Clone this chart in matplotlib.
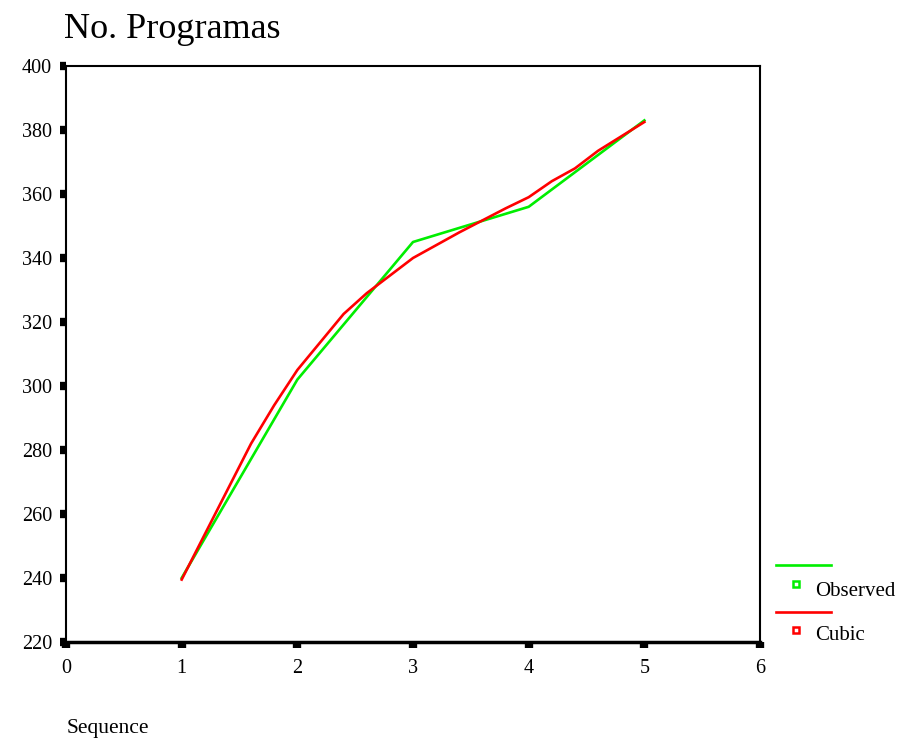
import matplotlib
matplotlib.use('Agg')
import matplotlib.pyplot as plt
from matplotlib.lines import Line2D

plt.rcParams['font.family'] = ['Liberation Serif', 'DejaVu Serif']

# observed series
seq = [1, 2, 3, 4, 5]
observed = [240, 302, 345, 356, 383]

# cubic fit
cubic_x = [1, 1.6, 1.8, 2.0, 2.4, 2.6, 3.0, 3.4, 3.8, 4.0, 4.2, 4.4, 4.6, 4.8, 5.0]
cubic_y = [239.5, 282, 294, 305, 322.5, 329, 340, 348, 355.5, 359, 364, 368, 373.5, 378, 382.5]

xticks = [0, 1, 2, 3, 4, 5, 6]
yticks = [220, 240, 260, 280, 300, 320, 340, 360, 380, 400]

fig = plt.figure(figsize=(9.17, 7.45), dpi=100)
ax = fig.add_axes([0.072, 0.1383, 0.7568, 0.7731])

green = '#00ee00'
red = '#ff0000'
ax.plot(seq, observed, color=green, lw=1.9)
ax.plot(cubic_x, cubic_y, color=red, lw=1.9)

ax.set_xlim(0, 6)
ax.set_ylim(220, 400)
ax.set_xticks(xticks)
ax.set_yticks(yticks)
ax.tick_params(axis='both', direction='out', length=4, width=6, color='black',
               labelsize=14.5, pad=6)
ax.tick_params(axis='x', pad=8)
for s in ax.spines.values():
    s.set_linewidth(1.5)
ax.spines['bottom'].set_linewidth(2.5)

fig.text(0.07, 0.96, 'No. Programas', fontsize=26, va='center', ha='left')
fig.text(0.073, 0.022, 'Sequence', fontsize=15.5, va='center', ha='left')

# legend drawn at right
W, H = 917, 745
def fx(px):
    return px / W
def fy(py):
    return 1 - py / H

fig.add_artist(Line2D([fx(776), fx(831)], [fy(565), fy(565)], color=green, lw=1.9,
                      transform=fig.transFigure))
fig.add_artist(Line2D([fx(796)], [fy(584)], color=green, marker='s', ms=5, mfc='white',
                      mew=1.8, transform=fig.transFigure))
fig.text(fx(815), fy(591), 'Observed', fontsize=15, va='center', ha='left')

fig.add_artist(Line2D([fx(776), fx(831)], [fy(612), fy(612)], color=red, lw=1.9,
                      transform=fig.transFigure))
fig.add_artist(Line2D([fx(796)], [fy(630)], color=red, marker='s', ms=5, mfc='white',
                      mew=1.8, transform=fig.transFigure))
fig.text(fx(815), fy(636), 'Cubic', fontsize=15, va='center', ha='left')

fig.savefig('out.png', dpi=100)
